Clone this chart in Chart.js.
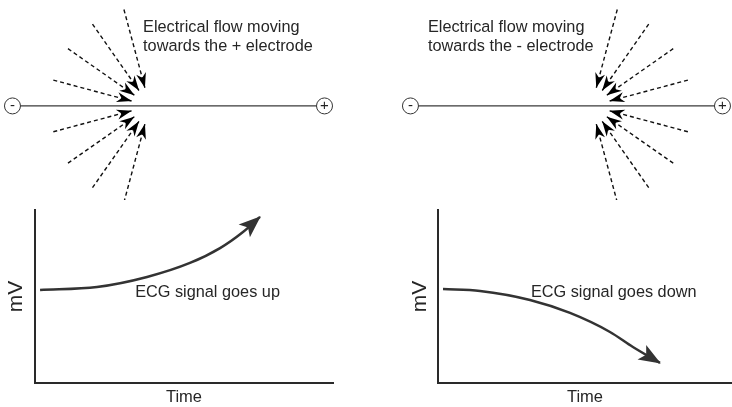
<!DOCTYPE html>
<html><head><meta charset="utf-8">
<script src="https://cdn.jsdelivr.net/npm/chart.js@4/dist/chart.umd.min.js"></script>
<style>
html,body{margin:0;padding:0;background:#fff;}
#wrap{position:relative;width:732px;height:407px;overflow:hidden;background:#fff;}
canvas{position:absolute;display:block;}
</style></head><body>
<div id="wrap">
<canvas id="topL" width="366" height="200" style="left:0;top:0"></canvas>
<canvas id="topR" width="366" height="200" style="left:366px;top:0"></canvas>
<canvas id="botL" width="366" height="207" style="left:0;top:200px"></canvas>
<canvas id="botR" width="366" height="207" style="left:366px;top:200px"></canvas>
</div>
<script>
// ---------------- data ----------------
const electrodeX = [-1, 1];                 // - electrode, + electrode
const electrodeLabels = ['-', '+'];
const rayAnglesTowardsPlus  = [105, 125, 145, 165, 195, 215, 235, 255]; // degrees
const rayAnglesTowardsMinus = [75, 55, 35, 15, -15, -35, -55, -75];
const flowFocusTowardsPlus  = -0.12;
const flowFocusTowardsMinus = 0.16;
const rayOuterRadius = 0.64;
const rayTipRadius = 0.12;
const captionTowardsPlus  = ['Electrical flow moving', 'towards the + electrode'];
const captionTowardsMinus = ['Electrical flow moving', 'towards the - electrode'];

const upTime = [0.17, 2.08, 3.76, 5.20, 6.21, 6.98, 7.55];
const upMv   = [5.38, 5.55, 6.13, 6.94, 7.80, 8.73, 9.60];
const downTime = [0.17, 1.43, 3.13, 4.49, 5.85, 6.63, 7.55];
const downMv   = [5.43, 5.32, 4.80, 4.05, 2.95, 2.08, 1.16];
const signalLabels = ['ECG signal goes up', 'ECG signal goes down'];
const axisTitleY = 'mV';
const axisTitleX = 'Time';

// ---------------- styling / plugins ----------------
const FONT = "'Liberation Sans', Arial, Helvetica, sans-serif";
const TEXT = '#262626';
Chart.defaults.font.family = FONT;

const arrowPlugin = {
  id: 'arrowHeads',
  afterDatasetsDraw(chart) {
    const ctx = chart.ctx;
    chart.data.datasets.forEach((ds, i) => {
      if (!ds.arrow) return;
      const pts = chart.getDatasetMeta(i).data;
      const p = pts[pts.length - 1];
      let dx, dy;
      if (ds.arrow.useCurve && p.cp1x !== undefined && (p.cp1x !== p.x || p.cp1y !== p.y)) {
        dx = p.x - p.cp1x; dy = p.y - p.cp1y;
      } else {
        const q = pts[pts.length - 2]; dx = p.x - q.x; dy = p.y - q.y;
      }
      const a = Math.atan2(dy, dx);
      const L = ds.arrow.length, W = ds.arrow.width, n = ds.arrow.notch, f = ds.arrow.forward || 0;
      ctx.save();
      ctx.translate(p.x, p.y);
      ctx.rotate(a);
      ctx.translate(f, 0);
      ctx.beginPath();
      ctx.moveTo(0, 0);
      ctx.lineTo(-L, -W / 2);
      ctx.lineTo(-L + n, 0);
      ctx.lineTo(-L, W / 2);
      ctx.closePath();
      ctx.fillStyle = ds.arrow.color;
      ctx.fill();
      ctx.restore();
    });
  }
};

const notesPlugin = {
  id: 'notes',
  afterDraw(chart, args, opts) {
    const ctx = chart.ctx, sx = chart.scales.x, sy = chart.scales.y;
    (opts.items || []).forEach(it => {
      ctx.save();
      ctx.font = it.font;
      ctx.fillStyle = it.color || TEXT;
      ctx.textAlign = it.align || 'left';
      ctx.textBaseline = it.baseline || 'alphabetic';
      const px = sx.getPixelForValue(it.x) + (it.dx || 0);
      const py = sy.getPixelForValue(it.y) + (it.dy || 0);
      it.text.forEach((t, k) => ctx.fillText(t, px, py + k * (it.lineGap || 0)));
      ctx.restore();
    });
  }
};

function flowChart(id, focusX, angles, xMin, xMax, caption, captionX) {
  const datasets = [];
  datasets.push({
    label: 'electrodes', data: electrodeX.map(v => ({x: v, y: 0})), showLine: false,
    pointRadius: 8, pointHoverRadius: 8, pointBackgroundColor: '#fff',
    pointBorderColor: '#333', pointBorderWidth: 1, order: -1
  });
  datasets.push({
    label: 'lead axis', data: electrodeX.map(v => ({x: v, y: 0})), showLine: true,
    borderColor: '#3a3a3a', borderWidth: 1.2, pointRadius: 0, order: 1
  });
  angles.forEach((deg, k) => {
    const r = deg * Math.PI / 180;
    datasets.push({
      label: 'flow ' + k,
      data: [
        {x: focusX + rayOuterRadius * Math.cos(r), y: rayOuterRadius * Math.sin(r)},
        {x: focusX + rayTipRadius * Math.cos(r), y: rayTipRadius * Math.sin(r)}
      ],
      showLine: true, borderColor: '#111', borderWidth: 1.4, borderDash: [4, 3],
      pointRadius: 0, order: 0,
      arrow: {length: 15, width: 10, notch: 4.5, color: '#000'}
    });
  });
  return new Chart(document.getElementById(id), {
    type: 'scatter',
    data: {datasets},
    options: {
      responsive: false, animation: false, events: [],
      layout: {padding: 0, autoPadding: false},
      plugins: {
        legend: {display: false}, tooltip: {enabled: false},
        notes: {items: [
          {text: caption, x: captionX, y: 0.474, lineGap: 19.5, font: '16.3px ' + FONT},
          {text: [electrodeLabels[0]], x: electrodeX[0], y: 0, align: 'center', baseline: 'middle', dy: 0, font: '15px ' + FONT, color: '#222'},
          {text: [electrodeLabels[1]], x: electrodeX[1], y: 0, align: 'center', baseline: 'middle', dy: 0, font: '15px ' + FONT, color: '#222'}
        ]}
      },
      scales: {
        x: {type: 'linear', display: false, min: xMin, max: xMax},
        y: {type: 'linear', display: false, min: -0.603, max: 0.679}
      }
    },
    plugins: [arrowPlugin, notesPlugin]
  });
}

function signalChart(id, times, values, label, labelX, padLeft, padRight, yWidth) {
  return new Chart(document.getElementById(id), {
    type: 'scatter',
    data: {datasets: [{
      label: label,
      data: times.map((t, i) => ({x: t, y: values[i]})),
      showLine: true, borderColor: '#333', borderWidth: 2.5, pointRadius: 0,
      cubicInterpolationMode: 'monotone',
      arrow: {length: 22, width: 17, notch: 5, color: '#333', useCurve: true, forward: 1}
    }]},
    options: {
      responsive: false, animation: false, events: [],
      layout: {padding: {left: padLeft, right: padRight, top: 10, bottom: 0}, autoPadding: false},
      plugins: {
        legend: {display: false}, tooltip: {enabled: false},
        notes: {items: [{text: [label], x: labelX, y: 4.97, font: '16.3px ' + FONT}]}
      },
      scales: {
        x: {
          type: 'linear', min: 0, max: 10,
          grid: {display: false, drawTicks: false},
          ticks: {display: false},
          border: {display: true, color: '#2a2a2a', width: 2},
          title: {display: true, text: axisTitleX, color: TEXT, font: {family: FONT, size: 16.5}, padding: {top: 0, bottom: 0}},
          afterFit: s => { s.height = 24; }
        },
        y: {
          type: 'linear', min: 0, max: 10,
          grid: {display: false, drawTicks: false},
          ticks: {display: false},
          border: {display: true, color: '#2a2a2a', width: 2},
          title: {display: true, text: axisTitleY, color: TEXT, font: {family: FONT, size: 21}, padding: {top: 4, bottom: 0}},
          afterFit: s => { s.width = yWidth; }
        }
      }
    },
    plugins: [arrowPlugin, notesPlugin]
  });
}

flowChart('topL', flowFocusTowardsPlus, rayAnglesTowardsPlus, -1.080, 1.266, captionTowardsPlus, -0.163);
flowChart('topR', flowFocusTowardsMinus, rayAnglesTowardsMinus, -1.285, 1.061, captionTowardsMinus, -0.888);
signalChart('botL', upTime, upMv, signalLabels[0], 3.36, 0, 33, 35);
signalChart('botR', downTime, downMv, signalLabels[1], 3.16, 38, 0, 34);
</script>
</body></html>
